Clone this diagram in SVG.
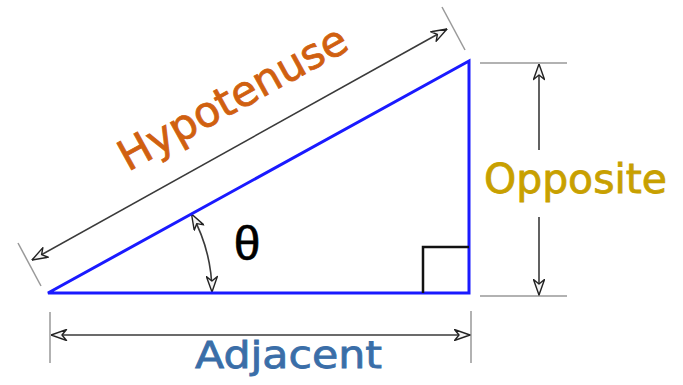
<svg xmlns="http://www.w3.org/2000/svg" width="683" height="385" viewBox="0 0 683 385">
<style>
.dim{stroke:#3a3a3a;stroke-width:1.6;fill:none}
.ext{stroke:#999;stroke-width:1.5;fill:none}
.tri{stroke:#1a1aff;stroke-width:3;fill:none;stroke-linejoin:miter}
.lbl{font-family:"DejaVu Sans","Liberation Sans",sans-serif;stroke-width:0.8}
</style>
<defs>
<marker id="arr" viewBox="0 0 16 12" refX="16" refY="6" markerWidth="17" markerHeight="12" markerUnits="userSpaceOnUse" orient="auto-start-reverse">
<path d="M0.5,0.5 L16,6 L0.5,11.5 L5,6 Z" fill="#f4f4f4" stroke="#222" stroke-width="1.4" stroke-linejoin="round"/>
</marker>
</defs>
<rect width="683" height="385" fill="#fff"/>
<g id="connectors">
<line class="ext" x1="18" y1="243" x2="41" y2="286"/>
<line class="ext" x1="442" y1="7" x2="465" y2="50"/>
<line class="dim" x1="32" y1="260" x2="447" y2="29" marker-start="url(#arr)" marker-end="url(#arr)"/>
<line class="ext" x1="480" y1="63" x2="567" y2="63"/>
<line class="ext" x1="480" y1="296" x2="567" y2="296"/>
<line class="dim" x1="539" y1="150" x2="539" y2="64" marker-end="url(#arr)"/>
<line class="dim" x1="539" y1="217" x2="539" y2="295" marker-end="url(#arr)"/>
<line class="ext" x1="50" y1="312" x2="50" y2="363"/>
<line class="ext" x1="471" y1="311" x2="471" y2="363"/>
<line class="dim" x1="51" y1="335" x2="470" y2="335" marker-start="url(#arr)" marker-end="url(#arr)"/>
<path class="dim" d="M191.5,214 A164,164 0 0 1 212,292" stroke="#222" stroke-width="2" marker-start="url(#arr)" marker-end="url(#arr)"/>
</g>
<g id="triangle">
<path class="tri" d="M48,293 L469,293 L469,61 Z"/>
<path d="M423,293 L423,247 L469,247" fill="none" stroke="#111" stroke-width="2.5"/>
</g>
<g id="theta">
<text x="247" y="260" font-family="Liberation Sans,sans-serif" font-size="48" text-anchor="middle" fill="#000" stroke="#000" stroke-width="0.6">θ</text>
</g>
<g id="hypotenuse">
<text class="lbl" transform="translate(128,172) rotate(-28.9)" font-size="42" fill="#d06010" stroke="#d06010" textLength="255" lengthAdjust="spacingAndGlyphs">Hypotenuse</text>
</g>
<g id="opposite">
<text class="lbl" x="484" y="193" font-size="40" fill="#c8a000" stroke="#c8a000" textLength="183" lengthAdjust="spacingAndGlyphs">Opposite</text>
</g>
<g id="adjacent">
<text class="lbl" x="195" y="368" font-size="38" fill="#3a6ea8" stroke="#3a6ea8" textLength="187" lengthAdjust="spacingAndGlyphs">Adjacent</text>
</g>
</svg>
